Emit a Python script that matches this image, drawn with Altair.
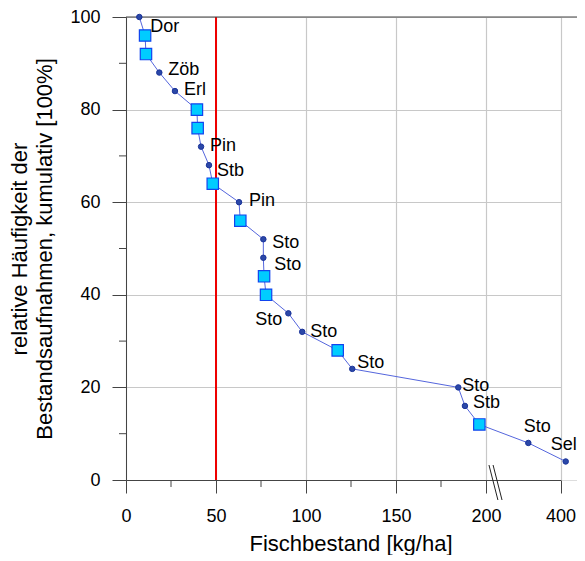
import altair as alt
import pandas as pd

# ---- data ----
cum_pct = [100, 96, 92, 88, 84, 80, 76, 72, 68, 64, 60, 56, 52,
           48, 44, 40, 36, 32, 28, 24, 20, 16, 12, 8, 4]
fish_kg_ha = [7.4, 10.6, 11.1, 18.5, 27.2, 39.4, 39.8, 41.7, 46.1, 48.2,
              62.8, 63.5, 76.3, 76.3, 76.7, 77.8, 90.2, 97.9, 117.6, 125.7,
              184.6, 188.3, 196.3, 313.6, 414.0]
labels = ["Dor", "", "", "Zöb", "Erl", "", "", "Pin", "Stb", "", "Pin", "",
          "Sto", "Sto", "", "", "Sto", "Sto", "", "Sto", "Sto", "Stb", "",
          "Sto", "Sel"]
x_ticks = [0, 50, 100, 150, 200, 400]
x_minor = [25, 75, 125, 175]
y_ticks = [0, 20, 40, 60, 80, 100]
y_minor = [10, 30, 50, 70, 90]
ref_value = [50]
break_from = [208, 219]
break_to = [232, 243]

W, H = 451, 463
FONT = "Liberation Sans"
AX = "#444444"
GRID = "#c8c8c8"

df = pd.DataFrame({"i": list(range(len(cum_pct))), "x": fish_kg_ha,
                   "y": cum_pct, "lab": labels})

x_scale = alt.Scale(domain=[0, 200, 400], range=[0, 360, 434.5], nice=False, zero=False)
y_scale = alt.Scale(domain=[0, 100], nice=False)

x_axis = alt.Axis(values=x_ticks, grid=True, gridColor=GRID, gridWidth=1.2,
                  domainColor=AX, tickColor=AX, tickSize=13, labelPadding=14,
                  labelFontSize=18, labelColor="black", labelFont=FONT,
                  title="Fischbestand [kg/ha]", titleFontSize=22,
                  titleFontWeight="normal", titleColor="black", titleFont=FONT,
                  titlePadding=8, titleX=224.5, labelFlush=False)
y_axis = alt.Axis(values=y_ticks, grid=True, gridColor=GRID, gridWidth=1.2,
                  domainColor=AX, tickColor=AX, tickSize=14, labelPadding=12,
                  labelFontSize=18, labelColor="black", labelFont=FONT,
                  title=["relative Häufigkeit der", "Bestandsaufnahmen, kumulativ [100%]"],
                  titleFontSize=22, titleFontWeight="normal", titleColor="black",
                  titleFont=FONT, titleLineHeight=25, titlePadding=13,
                  labelFlush=False)

base = alt.Chart(df)

line = base.mark_line(color="#5566dd", strokeWidth=1).encode(
    x=alt.X("x:Q", scale=x_scale, axis=x_axis),
    y=alt.Y("y:Q", scale=y_scale, axis=y_axis),
    order="i:Q",
)

red = alt.Chart(pd.DataFrame({"x": ref_value})).mark_rule(
    color="#ee0000", strokeWidth=2).encode(x="x:Q")

top_rule = alt.Chart(pd.DataFrame({"y": [100]})).mark_rule(
    color=AX, strokeWidth=1.2).encode(y="y:Q", x=alt.value(0), x2=alt.value(W))

xminor = alt.Chart(pd.DataFrame({"x": x_minor})).mark_rule(
    color=AX, strokeWidth=1).encode(x="x:Q", y=alt.value(H), y2=alt.value(H + 7))
yminor = alt.Chart(pd.DataFrame({"y": y_minor})).mark_rule(
    color=AX, strokeWidth=1).encode(y="y:Q", x=alt.value(-7), x2=alt.value(0))

brk = alt.Chart(pd.DataFrame({"x": break_from, "x2": break_to})).mark_rule(
    color="#222222", strokeWidth=1).encode(
    x="x:Q", x2="x2:Q", y=alt.value(H - 15), y2=alt.value(H + 20))

circles = base.transform_filter("datum.lab != ''").mark_point(
    shape="circle", filled=True, size=30, fill="#2b48a8", stroke="#1a3399",
    strokeWidth=1, opacity=1).encode(x="x:Q", y="y:Q")

squares = base.transform_filter("datum.lab == ''").mark_point(
    shape="square", filled=True, size=130, fill="#00ccff", stroke="#1144ee",
    strokeWidth=1.2, opacity=1).encode(x="x:Q", y="y:Q")

offsets = {0: (11, 10, "left"), 3: (9, -3, "left"), 4: (9, -1, "left"),
           7: (9, -1, "left"), 8: (8, 6, "left"), 10: (10, -1, "left"),
           12: (9, 4, "left"), 13: (11, 7, "left"), 16: (-6, 7, "right"),
           17: (8, 0, "left"), 19: (5, -6, "left"), 20: (4, -1, "left"),
           21: (8, -3, "left"), 23: (9, -16, "center"), 24: (11, -16, "right")}

texts = []
for idx, (dx, dy, al) in offsets.items():
    texts.append(base.transform_filter(f"datum.i == {idx}").mark_text(
        dx=dx, dy=dy, align=al, baseline="middle", fontSize=18, font=FONT,
        color="black").encode(x="x:Q", y="y:Q", text="lab:N"))

chart = alt.layer(red, top_rule, xminor, yminor, brk, line, squares, circles,
                  *texts).properties(
    width=W, height=H,
    autosize=alt.AutoSizeParams(type="none"),
    padding={"left": 118, "top": 9, "right": 0, "bottom": 75},
).configure_view(stroke=None).configure(font=FONT)

chart.save("out.html", embed_options={"renderer": "svg", "actions": False})
